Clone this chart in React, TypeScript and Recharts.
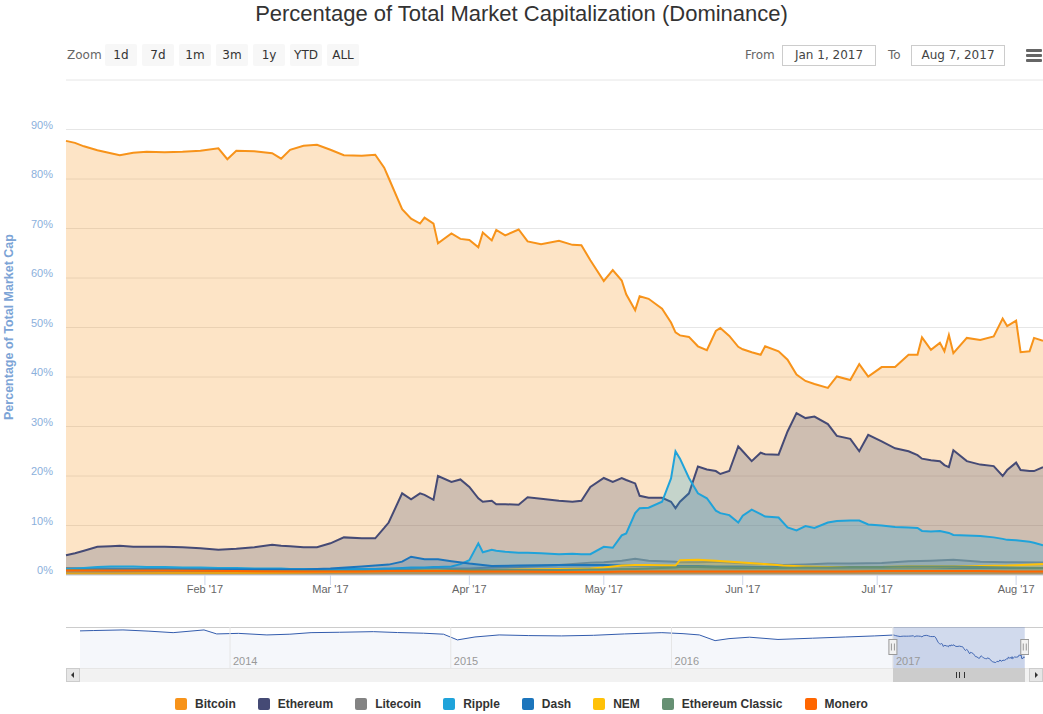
import React from "react";
import { AreaChart, Area, XAxis, YAxis, CartesianGrid, ReferenceArea, ReferenceLine } from "recharts";

// 2017 sample dates (MM-DD) for the three big series
const mainDates = [
  "01-01", "01-03", "01-05", "01-08", "01-11", "01-13", "01-16", "01-19", "01-23", "01-27",
  "01-31", "02-04", "02-06", "02-08", "02-12", "02-16", "02-18", "02-20", "02-23", "02-26",
  "03-01", "03-04", "03-08", "03-11", "03-13", "03-14", "03-17", "03-19", "03-21", "03-22",
  "03-24", "03-25", "03-28", "03-30", "04-01", "04-03", "04-04", "04-06", "04-07", "04-09",
  "04-12", "04-14", "04-17", "04-21", "04-24", "04-26", "04-28", "05-01", "05-03", "05-05",
  "05-06", "05-08", "05-09", "05-11", "05-14", "05-16", "05-17", "05-18", "05-20", "05-22",
  "05-24", "05-26", "05-27", "05-29", "05-31", "06-01", "06-03", "06-05", "06-06", "06-09",
  "06-11", "06-13", "06-15", "06-17", "06-20", "06-22", "06-25", "06-27", "06-29", "07-02",
  "07-05", "07-08", "07-10", "07-11", "07-13", "07-15", "07-16", "07-17", "07-18", "07-21",
  "07-24", "07-27", "07-29", "07-30", "08-01", "08-02", "08-04", "08-05", "08-07",
];

const bitcoin = [
  87.7, 87.3, 86.6, 85.8, 85.2, 84.8, 85.3, 85.5, 85.4, 85.5,
  85.7, 86.2, 84.0, 85.7, 85.6, 85.2, 84.1, 85.9, 86.7, 86.9,
  85.9, 84.8, 84.7, 84.9, 82.3, 80.2, 73.9, 72.0, 71.0, 72.2,
  71.0, 67.0, 69.0, 67.9, 67.7, 66.2, 69.2, 67.6, 69.7, 68.6,
  69.8, 67.4, 66.8, 67.5, 66.7, 66.6, 63.6, 59.4, 61.6, 59.5,
  56.7, 53.5, 56.3, 55.8, 53.8, 51.0, 49.0, 48.4, 48.1, 46.2,
  45.4, 49.3, 49.9, 48.3, 46.1, 45.6, 45.0, 44.5, 46.2, 45.2,
  43.5, 40.5, 39.2, 38.6, 37.8, 40.1, 39.4, 42.6, 40.1, 42.0,
  42.0, 44.5, 44.5, 48.0, 45.5, 46.9, 45.2, 48.5, 44.8, 47.9,
  47.5, 48.2, 51.8, 50.3, 51.4, 45.0, 45.2, 47.9, 47.3,
];

const ethereum = [
  4.0, 4.4, 4.9, 5.7, 5.8, 5.9, 5.7, 5.7, 5.7, 5.6,
  5.4, 5.1, 5.2, 5.3, 5.6, 6.1, 5.9, 5.8, 5.6, 5.6,
  6.4, 7.6, 7.4, 7.4, 9.5, 10.6, 16.5, 15.3, 16.5, 16.2,
  15.2, 20.0, 18.8, 19.3, 17.8, 15.5, 14.8, 15.0, 14.3, 14.3,
  14.2, 15.7, 15.4, 15.0, 14.8, 15.0, 17.8, 19.6, 18.8, 19.6,
  19.2, 18.5, 16.0, 15.6, 15.6, 14.8, 13.5, 14.8, 16.5, 21.9,
  21.3, 21.0, 20.4, 21.0, 26.0, 25.0, 23.0, 24.7, 24.4, 24.3,
  29.0, 32.7, 31.7, 32.0, 30.5, 28.1, 27.5, 25.0, 28.3, 27.0,
  25.6, 25.0, 24.2, 23.5, 23.2, 23.0, 22.2, 21.8, 25.2, 23.0,
  22.3, 22.0, 20.0, 21.2, 22.7, 21.2, 21.0, 21.0, 21.8,
];

const ripple = [
  1.2, 1.3, 1.4, 1.6, 1.7, 1.7, 1.7, 1.6, 1.6, 1.5,
  1.5, 1.4, 1.4, 1.4, 1.3, 1.3, 1.3, 1.2, 1.2, 1.2,
  1.2, 1.2, 1.2, 1.2, 1.3, 1.3, 1.4, 1.5, 1.5, 1.5,
  1.6, 1.6, 1.7, 2.2, 3.0, 6.4, 4.6, 5.1, 4.9, 4.7,
  4.5, 4.5, 4.4, 4.2, 4.3, 4.2, 4.2, 5.7, 5.5, 8.0,
  8.4, 12.5, 13.5, 13.6, 14.8, 19.5, 25.0, 23.5, 19.6, 16.5,
  15.5, 13.0, 12.5, 12.1, 10.6, 12.0, 13.2, 12.3, 11.8, 11.6,
  9.6, 9.0, 9.9, 9.5, 10.6, 10.9, 11.0, 11.0, 10.2, 10.0,
  9.7, 9.6, 9.5, 8.9, 8.8, 8.9, 8.7, 8.5, 8.1, 8.0,
  7.9, 7.6, 7.3, 7.1, 7.0, 6.9, 6.7, 6.5, 6.0,
];

// coarser dates for the small coins
const minorDates = [
  "01-01", "01-11", "01-23", "02-08", "02-23", "03-01", "03-08", "03-14", "03-17", "03-19",
  "03-22", "03-25", "03-28", "04-01", "04-06", "04-12", "04-21", "04-28", "05-01", "05-05",
  "05-08", "05-11", "05-17", "05-18", "05-22", "05-26", "05-31", "06-06", "06-10", "06-15",
  "06-20", "06-25", "07-02", "07-08", "07-13", "07-18", "07-24", "07-30", "08-07",
];

const litecoin = [
  1.4, 1.3, 1.2, 1.1, 1.1, 1.1, 1.1, 1.1, 1.1, 1.2,
  1.2, 1.3, 1.3, 1.3, 1.5, 1.6, 2.0, 2.5, 2.6, 2.9,
  3.3, 2.9, 2.7, 2.6, 2.6, 2.7, 2.4, 2.2, 2.0, 2.1,
  2.3, 2.3, 2.4, 2.8, 2.9, 3.1, 2.7, 2.6, 2.5,
];

const dash = [
  1.0, 1.1, 1.1, 1.1, 1.1, 1.3, 1.7, 2.1, 2.7, 3.7,
  3.2, 3.2, 2.8, 2.3, 1.8, 1.9, 2.0, 2.0, 2.0, 1.9,
  1.9, 1.9, 1.8, 1.8, 1.8, 1.7, 1.7, 1.6, 1.6, 1.5,
  1.5, 1.5, 1.5, 1.5, 1.5, 1.4, 1.4, 1.4, 1.4,
];

const nem = [
  0.3, 0.3, 0.4, 0.4, 0.5, 0.6, 0.7, 0.8, 0.8, 0.8,
  0.9, 0.9, 0.9, 1.0, 1.0, 1.1, 1.2, 1.3, 1.5, 1.9,
  2.0, 2.0, 1.9, 3.0, 3.1, 2.9, 2.6, 2.2, 1.9, 1.7,
  1.6, 1.6, 1.6, 1.7, 1.7, 1.7, 1.8, 1.9, 2.2,
];

const ethClassic = [
  1.0, 0.9, 0.9, 0.8, 0.8, 0.8, 0.8, 0.8, 0.9, 0.9,
  0.9, 0.9, 1.0, 1.0, 1.0, 1.0, 1.0, 1.1, 1.1, 1.2,
  1.2, 1.3, 1.5, 1.6, 1.6, 1.5, 1.4, 1.4, 1.4, 1.5,
  1.5, 1.6, 1.6, 1.7, 1.7, 1.7, 1.6, 1.5, 1.4,
];

const monero = [
  0.9, 0.9, 0.9, 0.8, 0.7, 0.7, 0.7, 0.8, 0.8, 0.8,
  0.8, 0.8, 0.8, 0.7, 0.7, 0.7, 0.6, 0.6, 0.6, 0.7,
  0.7, 0.7, 0.7, 0.7, 0.7, 0.7, 0.7, 0.7, 0.7, 0.7,
  0.7, 0.7, 0.8, 0.8, 0.8, 0.8, 0.8, 0.7, 0.7,
];

// navigator: bitcoin dominance before 2017 (then the 2017 series above)
const navDates = [
  "2013-04-28", "2013-05-20", "2013-07-08", "2013-08-20", "2013-09-29", "2013-11-19", "2013-12-10",
  "2014-01-15", "2014-03-03", "2014-04-10", "2014-05-15", "2014-07-01", "2014-08-26", "2014-10-05",
  "2014-11-17", "2014-12-20", "2015-01-12", "2015-02-10", "2015-03-22", "2015-05-10", "2015-07-03",
  "2015-08-25", "2015-10-15", "2015-12-16", "2016-01-20", "2016-02-16", "2016-03-13", "2016-04-05",
  "2016-05-09", "2016-06-25", "2016-08-21", "2016-10-15", "2016-12-02", "2016-12-31",
];
const navBitcoin = [
  95.0, 95.6, 96.7, 94.5, 91.8, 96.7, 89.5,
  90.5, 87.7, 89.0, 91.8, 92.5, 93.6, 92.0,
  90.8, 89.0, 78.7, 84.0, 87.7, 86.5, 85.9,
  87.0, 89.5, 91.8, 90.0, 87.7, 77.4, 81.0,
  83.6, 79.5, 81.8, 84.0, 85.9, 87.4,
];

const monthTicks = ["02-01", "03-01", "04-01", "05-01", "06-01", "07-01", "08-01"];
const yearTicks = ["2014-01-01", "2015-01-01", "2016-01-01", "2017-01-01"];
const yTicks = [0, 10, 20, 30, 40, 50, 60, 70, 80, 90, 100];
const zoomButtons = ["1d", "7d", "1m", "3m", "1y", "YTD", "ALL"];
const MONTHS = ["Jan", "Feb", "Mar", "Apr", "May", "Jun", "Jul", "Aug", "Sep", "Oct", "Nov", "Dec"];

const series = [
  { key: "bitcoin", name: "Bitcoin", color: "#f7931a" },
  { key: "ethereum", name: "Ethereum", color: "#454a75" },
  { key: "litecoin", name: "Litecoin", color: "#838383" },
  { key: "ripple", name: "Ripple", color: "#1fa3da" },
  { key: "dash", name: "Dash", color: "#1c75bc" },
  { key: "nem", name: "NEM", color: "#ffc107" },
  { key: "ethClassic", name: "Ethereum Classic", color: "#669073" },
  { key: "monero", name: "Monero", color: "#ff6600" },
];

const day = (md: string) => Date.parse(`2017-${md}T00:00:00Z`);
const iso = (d: string) => Date.parse(`${d}T00:00:00Z`);

const mainCols: Record<string, number[]> = { bitcoin, ethereum, ripple };
const minorCols: Record<string, number[]> = { litecoin, dash, nem, ethClassic, monero };

const allDates = Array.from(new Set([...mainDates, ...minorDates])).sort();
const table = allDates.map((d) => {
  const row: any = { t: day(d) };
  const i = mainDates.indexOf(d);
  if (i >= 0) Object.keys(mainCols).forEach((k) => (row[k] = mainCols[k][i]));
  const j = minorDates.indexOf(d);
  if (j >= 0) Object.keys(minorCols).forEach((k) => (row[k] = minorCols[k][j]));
  return row;
});

const navTable = [
  ...navDates.map((d, i) => ({ t: iso(d), v: navBitcoin[i] })),
  ...mainDates.map((d, i) => ({ t: day(d), v: bitcoin[i] })),
];

const selStart = day("01-01");
const selEnd = day("08-07");
const navMin = iso("2013-04-28");
const navMax = iso("2017-08-14");
const NAV_LEFT = 80;
const NAV_W = 949;
const navX = (t: number) => NAV_LEFT + ((t - navMin) / (navMax - navMin)) * NAV_W;

const YTick = (props: any) => {
  const { x, y, payload } = props;
  if (payload.value === 100) return <g />;
  return (
    <text x={x} y={y - 1} textAnchor="end" fill="#8bb0dc" fontSize={11}>
      {payload.value}%
    </text>
  );
};

const Handle = (props: any) => {
  const { x1, y1, y2 } = props;
  const cy = (y1 + y2) / 2;
  return (
    <g>
      <rect x={x1 - 4} y={cy - 8} width={8} height={15} fill="#f2f2f2" stroke="#999" />
      <line x1={x1 - 1.5} x2={x1 - 1.5} y1={cy - 4} y2={cy + 3} stroke="#999" />
      <line x1={x1 + 1.5} x2={x1 + 1.5} y1={cy - 4} y2={cy + 3} stroke="#999" />
    </g>
  );
};

const abs = (s: React.CSSProperties): React.CSSProperties => ({ position: "absolute", ...s });

export default function App() {
  const thumbL = navX(selStart);
  const thumbR = navX(selEnd);
  return (
    <div
      style={{
        position: "absolute",
        left: 0,
        top: 0,
        width: 1043,
        height: 714,
        background: "#fff",
        fontFamily: "'Liberation Sans', Arial, sans-serif",
        overflow: "hidden",
      }}
    >
      <div style={abs({ left: 0, top: 0, width: 1043, textAlign: "center", fontSize: 22, lineHeight: "28px", color: "#333" })}>
        Percentage of Total Market Capitalization (Dominance)
      </div>

      {/* range selector */}
      <div style={abs({ left: 0, top: 0, fontFamily: "'DejaVu Sans', sans-serif", fontSize: 12 })}>
        <div style={abs({ left: 67, top: 44, lineHeight: "22px", color: "#666" })}>Zoom</div>
        {zoomButtons.map((b, i) => (
          <div
            key={b}
            style={abs({
              left: 105 + i * 37,
              top: 44,
              width: 32,
              height: 22,
              lineHeight: "22px",
              textAlign: "center",
              background: "#f7f7f7",
              borderRadius: 2,
              color: "#333",
            })}
          >
            {b}
          </div>
        ))}
        <div style={abs({ left: 745, top: 44, lineHeight: "22px", color: "#666" })}>From</div>
        <div
          style={abs({
            left: 782, top: 45, width: 94, height: 21, boxSizing: "border-box", border: "1px solid #ccc",
            textAlign: "center", lineHeight: "19px", color: "#444",
          })}
        >
          Jan 1, 2017
        </div>
        <div style={abs({ left: 888, top: 44, lineHeight: "22px", color: "#666" })}>To</div>
        <div
          style={abs({
            left: 911, top: 45, width: 94, height: 21, boxSizing: "border-box", border: "1px solid #ccc",
            textAlign: "center", lineHeight: "19px", color: "#444",
          })}
        >
          Aug 7, 2017
        </div>
        {[49, 54, 59].map((y) => (
          <div key={y} style={abs({ left: 1026, top: y, width: 16, height: 3, background: "#666", borderRadius: 1 })} />
        ))}
      </div>

      <div style={abs({ left: 0, top: 0 })}>
        <AreaChart width={1043} height={620} data={table} margin={{ top: 80, right: 0, bottom: 20, left: 8 }}>
          <CartesianGrid horizontal vertical={false} stroke="#e6e6e6" />
          <XAxis
            dataKey="t"
            type="number"
            domain={[selStart, selEnd]}
            ticks={monthTicks.map(day)}
            interval={0}
            tickFormatter={(t: number) => `${MONTHS[new Date(t).getUTCMonth()]} '17`}
            tick={{ fill: "#666", fontSize: 11 }}
            tickLine={{ stroke: "#ccd6eb" }}
            tickSize={10}
            tickMargin={0}
            axisLine={{ stroke: "#ccd6eb" }}
            height={25}
          />
          <YAxis
            width={58}
            domain={[0, 100]}
            ticks={yTicks}
            interval={0}
            tick={<YTick />}
            tickSize={0}
            tickMargin={13}
            axisLine={false}
            tickLine={false}
          />
          {series.map((s) => (
            <Area
              key={s.key}
              type="linear"
              dataKey={s.key}
              stroke={s.color}
              strokeWidth={2}
              fill={s.color}
              fillOpacity={0.25}
              dot={false}
              activeDot={false}
              connectNulls
              isAnimationActive={false}
            />
          ))}
        </AreaChart>
      </div>

      <svg style={abs({ left: 0, top: 0 })} width={30} height={620}>
        <text
          transform="translate(13,327) rotate(-90)"
          textAnchor="middle"
          fill="#7ca4d6"
          fontSize={12.5}
          fontWeight="bold"
        >
          Percentage of Total Market Cap
        </text>
      </svg>

      {/* navigator */}
      <div style={abs({ left: 66, top: 627, width: 977, height: 1, background: "#ccc" })} />
      <div style={abs({ left: NAV_LEFT, top: 627 })}>
        <AreaChart width={NAV_W} height={41} data={navTable} margin={{ top: 0, right: 0, bottom: 0, left: 0 }}>
          <XAxis dataKey="t" type="number" domain={[navMin, navMax]} hide />
          <YAxis domain={[28, 102]} hide />
          {yearTicks.map((y) => (
            <ReferenceLine
              key={y}
              x={iso(y)}
              stroke="#e6e6e6"
              label={{ value: y.slice(0, 4), position: "insideBottomLeft", offset: 3, fill: "#999", fontSize: 11 }}
            />
          ))}
          <Area
            type="linear"
            dataKey="v"
            stroke="#335cad"
            strokeWidth={1}
            fill="#335cad"
            fillOpacity={0.05}
            dot={false}
            activeDot={false}
            isAnimationActive={false}
          />
          <ReferenceArea x1={selStart} x2={selEnd} fill="#6685c2" fillOpacity={0.3} stroke="none" />
          <ReferenceLine x={selStart} shape={Handle} />
          <ReferenceLine x={selEnd} shape={Handle} />
        </AreaChart>
      </div>

      {/* scrollbar */}
      <div style={abs({ left: 66, top: 668, width: 977, height: 14, background: "#f2f2f2", borderTop: "1px solid #e6e6e6", boxSizing: "border-box" })} />
      <div style={abs({ left: 66, top: 668, width: 14, height: 14, background: "#e6e6e6", border: "1px solid #ccc", boxSizing: "border-box" })}>
        <div style={abs({ left: 4, top: 3, width: 0, height: 0, borderTop: "3px solid transparent", borderBottom: "3px solid transparent", borderRight: "3px solid #333" })} />
      </div>
      <div style={abs({ left: 1029, top: 668, width: 14, height: 14, background: "#e6e6e6", border: "1px solid #ccc", boxSizing: "border-box" })}>
        <div style={abs({ left: 5, top: 3, width: 0, height: 0, borderTop: "3px solid transparent", borderBottom: "3px solid transparent", borderLeft: "3px solid #333" })} />
      </div>
      <div style={abs({ left: thumbL, top: 668, width: thumbR - thumbL, height: 14, background: "#ccc", border: "1px solid #ccc", boxSizing: "border-box" })}>
        <div style={abs({ left: (thumbR - thumbL) / 2 - 4, top: 3, width: 7, height: 6, borderLeft: "1px solid #333", borderRight: "1px solid #333" })}>
          <div style={abs({ left: 2, top: 0, width: 1, height: 6, background: "#333" })} />
        </div>
      </div>

      {/* legend */}
      <div style={abs({ left: 0, top: 697, width: 1043, display: "flex", justifyContent: "center", gap: 22 })}>
        {series.map((s) => (
          <div key={s.key} style={{ display: "flex", alignItems: "center", height: 14 }}>
            <div style={{ width: 12, height: 12, background: s.color, borderRadius: 2, marginRight: 8 }} />
            <span style={{ fontSize: 12, fontWeight: "bold", color: "#333" }}>{s.name}</span>
          </div>
        ))}
      </div>
    </div>
  );
}
